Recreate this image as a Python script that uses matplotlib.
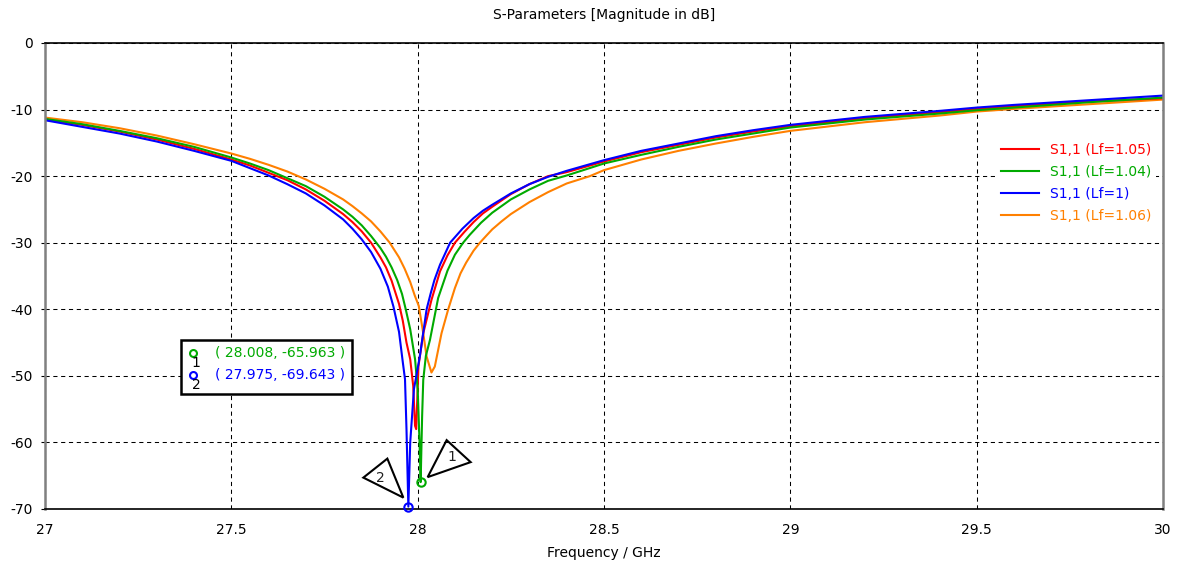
"""S11 sweep over Lf: CST-style magnitude plot with markers."""
import numpy as np
import matplotlib

matplotlib.use("Agg")
import matplotlib.pyplot as plt  # noqa: E402
from matplotlib.patches import Polygon, Rectangle  # noqa: E402

plt.rcParams["axes.unicode_minus"] = False

# ---- data (GHz, dB) ----
f_lf100 = [27.0, 27.1, 27.2, 27.3, 27.4, 27.5, 27.55, 27.6, 27.65, 27.7, 27.75, 27.8,
           27.825, 27.85, 27.875, 27.9, 27.92, 27.935, 27.95, 27.96, 27.966, 27.97,
           27.975, 27.98, 27.99, 28.006, 28.015, 28.024, 28.035, 28.045, 28.06, 28.087,
           28.12, 28.15, 28.175, 28.2, 28.25, 28.3, 28.35, 28.4, 28.5, 28.6, 28.7,
           28.8, 28.9, 29.0, 29.2, 29.4, 29.5, 29.6, 29.8, 30.0]
s_lf100 = [-11.6, -12.6, -13.6, -14.8, -16.2, -17.7, -18.8, -19.9, -21.2, -22.6, -24.4, -26.5,
           -27.9, -29.5, -31.4, -33.9, -36.6, -39.6, -43.4, -47.9, -50.5, -58.0,
           -69.643, -60.0, -52.0, -47.0, -43.5, -40.0, -37.6, -35.6, -33.3, -30.0,
           -27.9, -26.3, -25.2, -24.3, -22.6, -21.2, -20.1, -19.2, -17.6, -16.2, -15.1,
           -14.0, -13.1, -12.3, -11.1, -10.2, -9.7, -9.3, -8.6, -7.9]

f_lf105 = [27.0, 27.1, 27.2, 27.3, 27.4, 27.5, 27.55, 27.6, 27.65, 27.7, 27.75, 27.8,
           27.825, 27.85, 27.875, 27.9, 27.915, 27.93, 27.95, 27.96, 27.97, 27.98,
           27.988, 27.993, 27.996, 28.0, 28.002, 28.015, 28.037, 28.06, 28.08, 28.1,
           28.125, 28.15, 28.175, 28.2, 28.25, 28.3, 28.35, 28.4, 28.5, 28.6, 28.7, 28.8,
           28.9, 29.0, 29.2, 29.4, 29.5, 29.6, 29.8, 30.0]
s_lf105 = [-11.5, -12.3, -13.3, -14.5, -15.9, -17.5, -18.4, -19.5, -20.6, -22.0, -23.7, -25.7,
           -26.9, -28.3, -30.0, -32.2, -33.7, -35.7, -39.2, -41.7, -45.0, -47.5,
           -51.5, -57.5, -58.0, -52.0, -48.6, -43.6, -38.6, -34.3, -31.9, -30.0,
           -28.4, -26.9, -25.6, -24.6, -22.7, -21.2, -20.0, -19.4, -17.8, -16.4, -15.3, -14.2,
           -13.3, -12.5, -11.3, -10.4, -9.9, -9.5, -8.8, -8.3]

f_lf104 = [27.0, 27.1, 27.2, 27.3, 27.4, 27.5, 27.55, 27.6, 27.65, 27.7, 27.75, 27.8,
           27.825, 27.85, 27.875, 27.9, 27.915, 27.93, 27.945, 27.958, 27.968, 27.98,
           27.993, 28.0, 28.005, 28.008, 28.012, 28.015, 28.022, 28.033, 28.055, 28.08,
           28.1, 28.122, 28.14, 28.17, 28.2, 28.25, 28.3, 28.35, 28.4, 28.5,
           28.6, 28.7, 28.8, 28.9, 29.0, 29.2, 29.4, 29.5, 29.6, 29.8, 30.0]
s_lf104 = [-11.4, -12.2, -13.2, -14.3, -15.6, -17.2, -18.1, -19.1, -20.3, -21.5, -23.1, -25.0,
           -26.1, -27.4, -29.0, -30.8, -32.1, -33.7, -35.6, -37.7, -40.0, -43.0,
           -47.5, -52.0, -60.0, -65.963, -56.0, -50.6, -47.0, -44.6, -38.3, -34.2,
           -31.8, -30.0, -28.8, -27.0, -25.5, -23.5, -22.0, -20.7, -19.9, -18.1,
           -16.8, -15.6, -14.5, -13.6, -12.7, -11.5, -10.6, -10.1, -9.7, -8.9, -8.2]

f_lf106 = [27.0, 27.1, 27.2, 27.3, 27.4, 27.5, 27.55, 27.6, 27.65, 27.7, 27.75, 27.8,
           27.825, 27.85, 27.875, 27.9, 27.925, 27.95, 27.965, 27.98, 27.992, 28.003,
           28.015, 28.024, 28.037, 28.046, 28.064, 28.082, 28.1, 28.115, 28.13, 28.15,
           28.167, 28.185, 28.2, 28.225, 28.25, 28.3, 28.35, 28.4, 28.462, 28.5, 28.6,
           28.7, 28.8, 28.9, 29.0, 29.2, 29.4, 29.5, 29.6, 29.8, 30.0]
s_lf106 = [-11.2, -11.9, -12.8, -13.9, -15.2, -16.6, -17.4, -18.3, -19.3, -20.5, -21.9, -23.5,
           -24.5, -25.6, -26.8, -28.3, -30.0, -32.2, -33.9, -35.9, -37.9, -39.5,
           -43.6, -47.1, -49.5, -48.6, -43.6, -40.0, -36.8, -34.6, -33.0, -31.2,
           -30.0, -28.9, -28.0, -26.8, -25.7, -23.9, -22.4, -21.1, -20.0, -19.1, -17.5,
           -16.2, -15.1, -14.1, -13.2, -11.9, -10.9, -10.3, -9.9, -9.2, -8.5]

markers = [("1", 28.008, -65.963), ("2", 27.975, -69.643)]
xticks = [27, 27.5, 28, 28.5, 29, 29.5, 30]
yticks = [0, -10, -20, -30, -40, -50, -60, -70]

RED, GREEN, BLUE, ORANGE = "#ff0000", "#00aa00", "#0000ff", "#ff8000"
FS = 10

fig = plt.figure(figsize=(11.77, 5.67), dpi=100)
ax = fig.add_axes([45 / 1177, 1 - 509 / 567, 1118 / 1177, 466 / 567])

l4, = ax.plot(f_lf106, s_lf106, color=ORANGE, lw=1.5, label="S1,1 (Lf=1.06)")
l1, = ax.plot(f_lf105, s_lf105, color=RED, lw=1.5, label="S1,1 (Lf=1.05)")
l2, = ax.plot(f_lf104, s_lf104, color=GREEN, lw=1.5, label="S1,1 (Lf=1.04)")
l3, = ax.plot(f_lf100, s_lf100, color=BLUE, lw=1.5, label="S1,1 (Lf=1)")

ax.set_xlim(27, 30)
ax.set_ylim(-70, 0)
ax.set_xticks(xticks)
ax.set_xticklabels([f"{t:g}" for t in xticks])
ax.set_yticks(yticks)
ax.grid(True, color="black", linestyle=(0, (4, 3.5)), linewidth=0.75)
ax.tick_params(axis="x", length=0, pad=10, labelsize=FS)
ax.tick_params(axis="y", length=3, direction="out", pad=6, labelsize=FS)
for side in ("top", "bottom"):
    ax.spines[side].set_color("black"); ax.spines[side].set_linewidth(1.2)
for side in ("left", "right"):
    ax.spines[side].set_color("#808080"); ax.spines[side].set_linewidth(1.8)

# legend sits on a white patch that hides the grid behind it
leg = ax.legend(handles=[l1, l2, l3, l4], loc="upper left",
                bbox_to_anchor=((1001 - 45 - 5) / 1118, (509 - 143 + 5) / 466),
                borderaxespad=0, frameon=True, facecolor="white", edgecolor="none",
                framealpha=1, fancybox=False, fontsize=FS, handlelength=2.7,
                handletextpad=0.8, labelspacing=0.57, borderpad=0.36)
for txt, ln in zip(leg.get_texts(), [l1, l2, l3, l4]):
    txt.set_color(ln.get_color())

# markers on the curves with their triangle callouts (offsets in pixels)
mcolors = [GREEN, BLUE]
tri_off = {"1": [(7, 5), (26, 42), (50, 20)], "2": [(-45, 29), (-21, 48), (-5, 9)]}
lab_off = {"1": (31, 25), "2": (-28, 29)}
for (name, fx, sy), c in zip(markers, mcolors):
    ax.plot([fx], [sy], "o", ms=6, mfc="none", mec=c, mew=1.5, clip_on=False, zorder=5)
    disp = ax.transData.transform((fx, sy))
    verts = [ax.transData.inverted().transform((disp[0] + dx, disp[1] + dy))
             for dx, dy in tri_off[name]]
    ax.add_patch(Polygon(np.array(verts), closed=True, fill=False, ec="black", lw=1.5,
                         clip_on=False, zorder=6))
    ax.annotate(name, (fx, sy), xytext=lab_off[name], textcoords="offset pixels",
                ha="center", va="center", fontsize=FS, color="#202020")

# marker readout box
bx0, by0 = (181 - 45) / 1118, (509 - 394) / 466
ax.add_patch(Rectangle((bx0, by0), (352 - 181) / 1118, (394 - 340) / 466,
                       transform=ax.transAxes, fc="white", ec="black", lw=1.8, zorder=7))
rows_y = [(509 - 353) / 466, (509 - 375) / 466]
for (name, fx, sy), c, yy in zip(markers, mcolors, rows_y):
    ax.plot([(193 - 45) / 1118], [yy], "o", ms=5, mfc="none", mec=c, mew=1.5,
            transform=ax.transAxes, zorder=8, clip_on=False)
    ax.text((196 - 45) / 1118, yy - 10 / 466, name, transform=ax.transAxes,
            fontsize=FS, color="black", ha="center", va="center", zorder=8)
    ax.text((215 - 45) / 1118, yy, f"( {fx:.3f}, {sy:.3f} )", transform=ax.transAxes,
            fontsize=FS, color=c, ha="left", va="center", zorder=8)

fig.text(604 / 1177, 1 - 15 / 567, "S-Parameters [Magnitude in dB]", ha="center",
         va="center", fontsize=FS)
fig.text(604 / 1177, 1 - 553 / 567, "Frequency / GHz", ha="center", va="center",
         fontsize=FS)

fig.savefig("out.png", dpi=100)
